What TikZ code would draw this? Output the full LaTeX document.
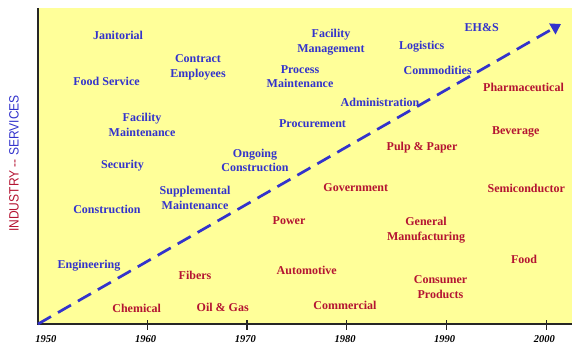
\documentclass[tikz,border=0pt]{standalone}
\usepackage{fontspec}
\setmainfont{Liberation Serif}
\newfontfamily\ejefont[FakeStretch=0.89]{Liberation Sans}
\usetikzlibrary{arrows.meta}

\definecolor{fondo}{RGB}{255,255,153}
\definecolor{azulserv}{RGB}{51,51,204}
\definecolor{rojoind}{RGB}{180,20,50}

\begin{document}
\begin{tikzpicture}[x=1pt, y=1pt,
    serv/.style={font=\fontsize{12}{14.5}\selectfont\bfseries, text=azulserv, align=center, inner sep=0pt},
    ind/.style={font=\fontsize{12}{14.5}\selectfont\bfseries, text=rojoind, align=center, inner sep=0pt},
    anio/.style={font=\fontsize{10.5}{12}\selectfont\bfseries\itshape, inner sep=0pt}]

\useasboundingbox (0,0) rectangle (572,348);

% =============================================
% Fondo y ejes
% =============================================
\fill[fondo] (38,24) rectangle (572,339.5);
\draw[line width=1.5pt, black!85] (38,339.5) -- (38,24) -- (572,24);

% marcas de los anios (10 anios = 99.7)
\foreach \yr in {1960,1970,...,2000}
    \draw[line width=1.2pt, black!85] ({147.3+(\yr-1960)*9.97},28) -- ++(0,-10);
\foreach \yr in {1950,1960,...,2000}
    \node[anio] (a\yr) at ({145.6+(\yr-1960)*9.97},8.5) {\yr};

% Eje vertical
\node[rotate=90, inner sep=0pt, font=\ejefont\fontsize{13.5}{14}\selectfont] (eje) at (14,184.5)
    {\textcolor{rojoind}{INDUSTRY --} \textcolor{azulserv}{SERVICES}};

% =============================================
% Flecha discontinua: industria -> servicios
% =============================================
\coordinate (inicio) at (38,24);
\coordinate (punta) at (561,324);
\draw[azulserv, line width=2.7pt, dash pattern=on 15pt off 8pt,
      -{Triangle[length=10pt, width=12pt]}] (inicio) -- (punta);

% =============================================
% Servicios (azul)
% =============================================
\node[serv] (janitorial) at (118,313) {Janitorial};
\node[serv] (foodserv) at (106.5,267) {Food Service};
\node[serv] (contract) at (198,280.5) {Contract\\Employees};
\node[serv] (facmaint) at (142,223) {Facility\\Maintenance};
\node[serv] (security) at (122.5,182) {Security};
\node[serv] (ongoing) at (255,187.5) {Ongoing\\Construction};
\node[serv] (suppl) at (195,150) {Supplemental\\Maintenance};
\node[serv] (construct) at (107,139) {Construction};
\node[serv] (engineer) at (89,82) {Engineering};
\node[serv] (facmgmt) at (331,306) {Facility\\Management};
\node[serv] (procmaint) at (300,271.5) {Process\\Maintenance};
\node[serv] (procure) at (312.5,224) {Procurement};
\node[serv] (admin) at (380,246) {Administration};
\node[serv] (logist) at (421.7,301) {Logistics};
\node[serv] (commod) at (437.7,278) {Commodities};
\node[serv] (ehs) at (481.7,320) {EH\&S};

% =============================================
% Industrias (rojo)
% =============================================
\node[ind] (pharma) at (523.5,261) {Pharmaceutical};
\node[ind] (beverage) at (515.7,216) {Beverage};
\node[ind] (pulp) at (422,200) {Pulp \& Paper};
\node[ind] (govern) at (355.8,160) {Government};
\node[ind] (semicon) at (526.3,160) {Semiconductor};
\node[ind] (power) at (289,127) {Power};
\node[ind] (genmfg) at (426,118) {General\\Manufacturing};
\node[ind] (automot) at (306.7,78) {Automotive};
\node[ind] (food) at (524,89) {Food};
\node[ind] (consumer) at (440.5,61) {Consumer\\Products};
\node[ind] (commerc) at (345,43) {Commercial};
\node[ind] (fibers) at (195,73) {Fibers};
\node[ind] (oilgas) at (222.7,41) {Oil \& Gas};
\node[ind] (chemical) at (136.7,40) {Chemical};

\end{tikzpicture}
\end{document}
